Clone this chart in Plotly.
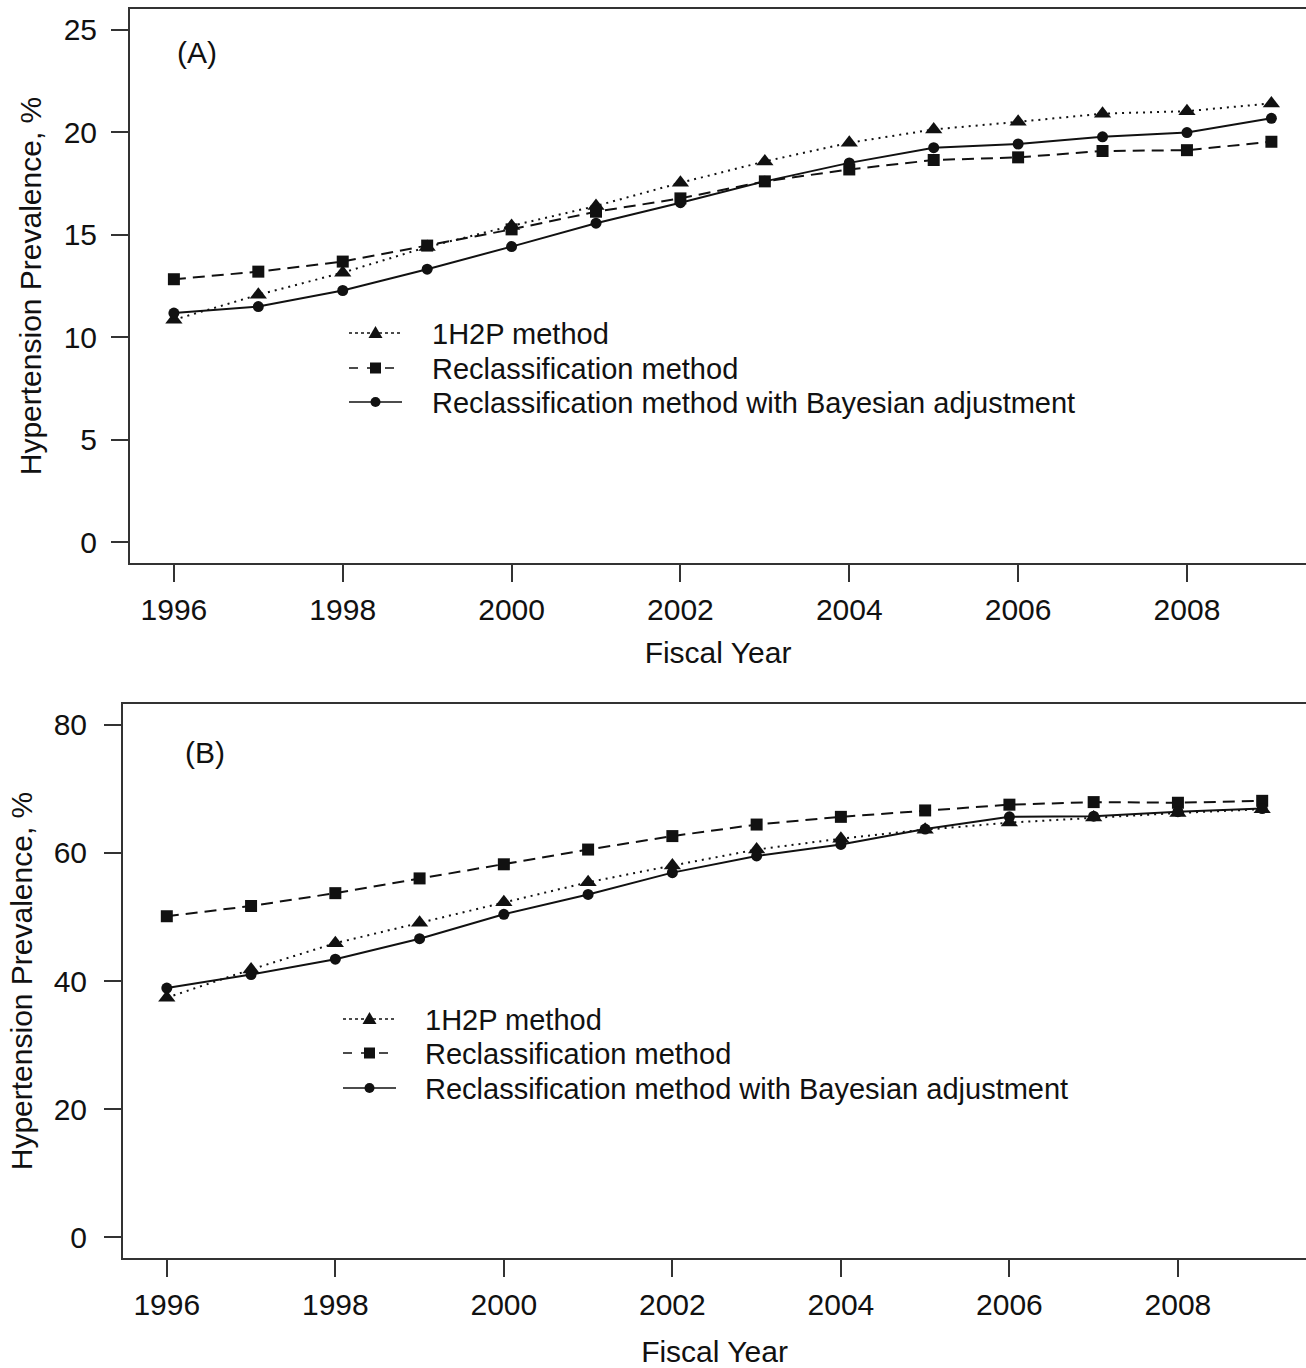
import plotly.graph_objects as go

years = [1996, 1997, 1998, 1999, 2000, 2001, 2002, 2003, 2004, 2005, 2006, 2007, 2008, 2009]

a_1h2p = [10.85, 12.07, 13.15, 14.4, 15.43, 16.4, 17.53, 18.57, 19.48, 20.13, 20.5, 20.9, 21.02, 21.4]
a_reclass = [12.83, 13.2, 13.69, 14.47, 15.26, 16.12, 16.77, 17.6, 18.18, 18.64, 18.77, 19.08, 19.12, 19.53]
a_bayes = [11.18, 11.5, 12.28, 13.32, 14.42, 15.56, 16.56, 17.6, 18.5, 19.24, 19.42, 19.77, 19.98, 20.67]

b_1h2p = [37.4, 41.8, 45.9, 49.1, 52.3, 55.4, 58.0, 60.5, 62.2, 63.6, 64.7, 65.5, 66.2, 66.8]
b_reclass = [50.1, 51.7, 53.7, 56.0, 58.2, 60.5, 62.6, 64.4, 65.6, 66.6, 67.5, 67.9, 67.8, 68.1]
b_bayes = [38.9, 41.0, 43.4, 46.6, 50.4, 53.5, 56.9, 59.5, 61.3, 63.7, 65.6, 65.7, 66.4, 66.9]

series_names = ["1H2P method", "Reclassification method",
                "Reclassification method with Bayesian adjustment"]
x_ticks = [1996, 1998, 2000, 2002, 2004, 2006, 2008]
a_yticks = [0, 5, 10, 15, 20, 25]
b_yticks = [0, 20, 40, 60, 80]

FONT = "Liberation Sans, Arial, sans-serif"
INK = "#111111"
AX = "#333333"

styles = [
    dict(dash="2px,5px", symbol="triangle-up", size=15),
    dict(dash="12px,7px", symbol="square", size=12),
    dict(dash="solid", symbol="circle", size=11),
]

W, H = 1306, 1368


def px_x(p):
    return p / W


def px_y(p):
    return (H - p) / H


fig = go.Figure()

for xa, ya, data in [("x", "y", [a_1h2p, a_reclass, a_bayes]),
                     ("x2", "y2", [b_1h2p, b_reclass, b_bayes])]:
    for name, vals, st in zip(series_names, data, styles):
        fig.add_trace(go.Scatter(
            x=years, y=vals, name=name, mode="lines+markers",
            xaxis=xa, yaxis=ya, showlegend=False,
            line=dict(color=INK, width=2, dash=st["dash"]),
            marker=dict(color=INK, symbol=st["symbol"], size=st["size"]),
        ))

axis_common = dict(
    showline=True, linecolor=AX, linewidth=2,
    ticks="outside", ticklen=17, tickwidth=2, tickcolor=AX,
    showgrid=False, zeroline=False,
    tickfont=dict(family=FONT, size=30, color=INK),
)
title_font = dict(family=FONT, size=30, color=INK)

fig.update_layout(
    width=W, height=H,
    margin=dict(l=0, r=0, t=0, b=0),
    paper_bgcolor="white", plot_bgcolor="white",
    font=dict(family=FONT, size=30, color=INK),
    showlegend=False,
    xaxis=dict(axis_common, domain=[px_x(130), 1], range=[1995.48, 2009.41],
               tickvals=x_ticks, mirror=True, anchor="y", ticklabelstandoff=2,
               title=dict(text="Fiscal Year", standoff=17, font=title_font)),
    yaxis=dict(axis_common, domain=[px_y(563), px_y(9)], range=[-1, 26],
               tickvals=a_yticks, anchor="x", ticklabelstandoff=8,
               title=dict(text="Hypertension Prevalence, %", standoff=13, font=title_font)),
    xaxis2=dict(axis_common, domain=[px_x(123), 1], range=[1995.48, 2009.52],
                tickvals=x_ticks, mirror=True, anchor="y2", ticklabelstandoff=2,
                title=dict(text="Fiscal Year", standoff=22, font=title_font)),
    yaxis2=dict(axis_common, domain=[px_y(1258), px_y(704)], range=[-3.2, 83.2],
                tickvals=b_yticks, anchor="x2", ticklabelstandoff=11,
                title=dict(text="Hypertension Prevalence, %", standoff=12, font=title_font)),
)

# Panel labels
fig.add_annotation(text="(A)", x=px_x(197), y=px_y(53), xref="paper", yref="paper",
                   xanchor="center", yanchor="middle", showarrow=False,
                   font=dict(family=FONT, size=30, color=INK))
fig.add_annotation(text="(B)", x=px_x(205), y=px_y(752), xref="paper", yref="paper",
                   xanchor="center", yanchor="middle", showarrow=False,
                   font=dict(family=FONT, size=30, color=INK))

# Legends (drawn in the R base-graphics style: short line sample with marker)
legend_specs = [
    dict(x0=349, x1=402, xt=430, rows=[333, 368, 402]),
    dict(x0=343, x1=396, xt=423, rows=[1019, 1053, 1088]),
]
shape_dash = ["dot", "dash", "solid"]
for spec in legend_specs:
    for name, st, dsh, ry in zip(series_names, styles, shape_dash, spec["rows"]):
        fig.add_shape(type="line", xref="paper", yref="paper",
                      x0=px_x(spec["x0"]), x1=px_x(spec["x1"]),
                      y0=px_y(ry), y1=px_y(ry),
                      line=dict(color=INK, width=1.6, dash=dsh))
        cx = (spec["x0"] + spec["x1"]) / 2
        if st["symbol"] == "triangle-up":
            path = "M {:.5f} {:.5f} L {:.5f} {:.5f} L {:.5f} {:.5f} Z".format(
                px_x(cx - 7), px_y(ry + 5), px_x(cx + 7), px_y(ry + 5),
                px_x(cx), px_y(ry - 7))
            fig.add_shape(type="path", xref="paper", yref="paper", path=path,
                          fillcolor=INK, line=dict(width=0))
        elif st["symbol"] == "square":
            fig.add_shape(type="rect", xref="paper", yref="paper",
                          x0=px_x(cx - 5.5), x1=px_x(cx + 5.5),
                          y0=px_y(ry + 5.5), y1=px_y(ry - 5.5),
                          fillcolor=INK, line=dict(width=0))
        else:
            fig.add_shape(type="circle", xref="paper", yref="paper",
                          x0=px_x(cx - 5), x1=px_x(cx + 5),
                          y0=px_y(ry + 5), y1=px_y(ry - 5),
                          fillcolor=INK, line=dict(width=0))
        fig.add_annotation(text=name, x=px_x(spec["xt"]), y=px_y(ry + 1),
                           xref="paper", yref="paper", xanchor="left", yanchor="middle",
                           showarrow=False, font=dict(family=FONT, size=29, color=INK))

fig.write_html(
    "out.html",
    config={"displayModeBar": False},
    post_script=("document.body.style.margin='0';"
                 "document.body.style.overflow='hidden';"
                 "document.documentElement.style.overflow='hidden';"),
)
